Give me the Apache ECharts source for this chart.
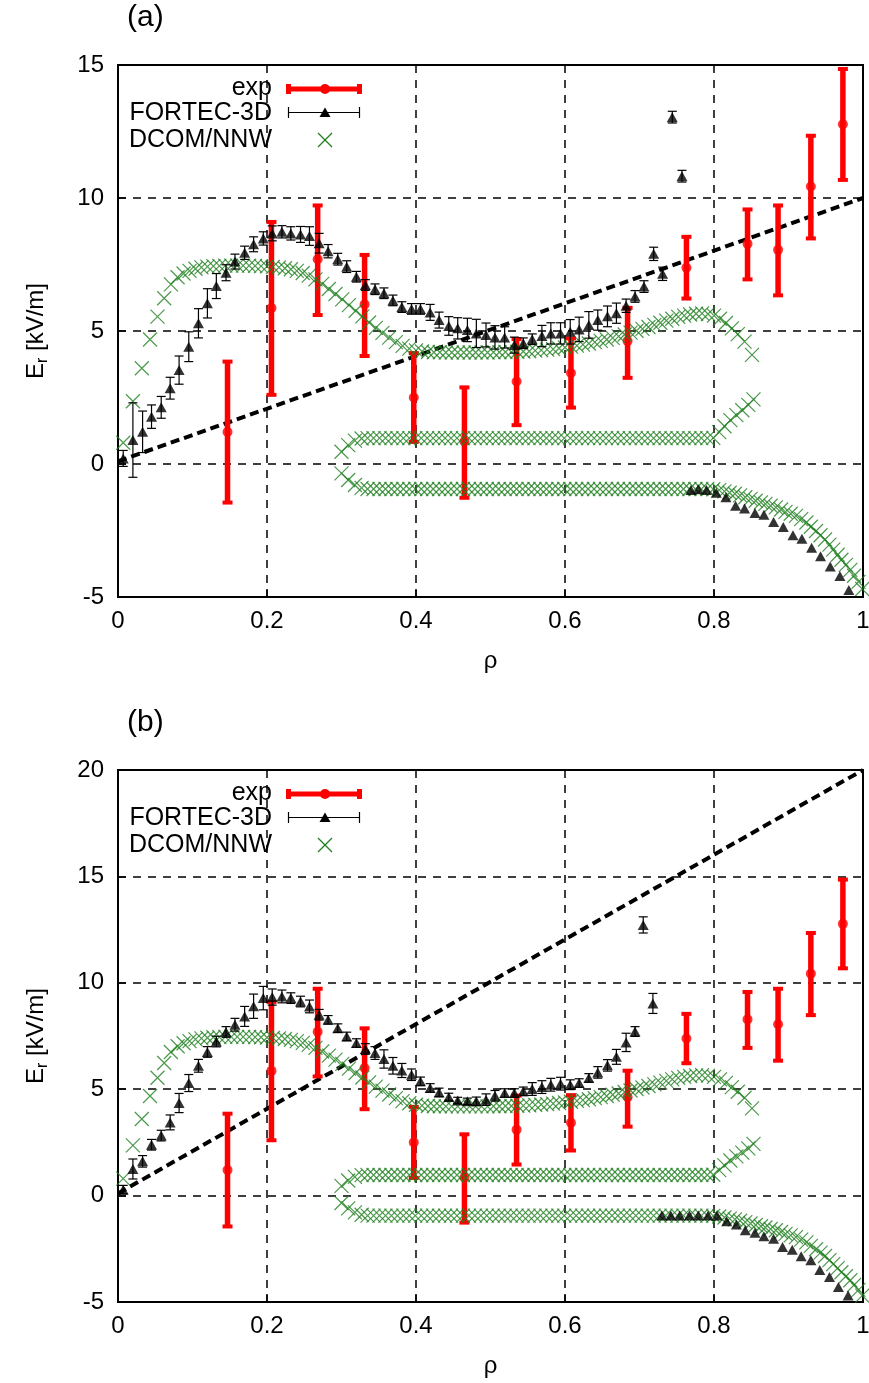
<!DOCTYPE html>
<html><head><meta charset="utf-8">
<script src="https://cdn.jsdelivr.net/npm/echarts@6.0.0/dist/echarts.min.js"></script>
<style>html,body{margin:0;padding:0;background:#fff}#c{width:869px;height:1383px}</style>
</head><body><div id="c"></div>
<script>
// ---------- data ----------
const xTicks = [0, 0.2, 0.4, 0.6, 0.8, 1];
// experimental Er with error bars (same in both panels)
const expX  = [0.147, 0.206, 0.268, 0.331, 0.397, 0.465, 0.535, 0.608, 0.684, 0.763, 0.845, 0.886, 0.930, 0.973];
const expY  = [1.20, 5.86, 7.70, 6.00, 2.50, 0.85, 3.10, 3.42, 4.62, 7.38, 8.28, 8.05, 10.43, 12.77];
const expLo = [-1.45, 2.60, 5.60, 4.06, 0.83, -1.27, 1.46, 2.12, 3.24, 6.22, 6.94, 6.34, 8.48, 10.68];
const expHi = [3.85, 9.10, 9.72, 7.86, 4.17, 2.88, 4.70, 4.72, 5.87, 8.54, 9.57, 9.72, 12.34, 14.85];

// FORTEC-3D panel (a): [rho, Er, error]
const fortecA = [
 [0.007,0.21,0.30],[0.020,0.90,1.40],[0.033,1.21,0.78],[0.045,1.78,0.44],[0.058,2.13,0.41],[0.070,2.85,0.41],
 [0.082,3.53,0.53],[0.095,4.41,0.56],[0.108,5.29,0.55],[0.120,6.04,0.55],[0.132,6.69,0.47],[0.145,7.19,0.30],
 [0.157,7.61,0.28],[0.170,7.94,0.25],[0.182,8.26,0.28],[0.195,8.48,0.25],[0.207,8.67,0.28],[0.220,8.73,0.23],
 [0.232,8.67,0.25],[0.245,8.63,0.30],[0.257,8.57,0.35],[0.270,8.30,0.37],[0.282,8.00,0.25],[0.295,7.70,0.22],
 [0.307,7.42,0.22],[0.320,7.04,0.20],[0.332,6.73,0.20],[0.345,6.57,0.20],[0.357,6.42,0.20],[0.369,6.15,0.20],
 [0.381,5.90,0.20],[0.394,5.83,0.20],[0.406,5.83,0.20],[0.419,5.70,0.30],[0.431,5.41,0.30],[0.444,5.19,0.35],
 [0.456,5.10,0.40],[0.469,5.04,0.44],[0.481,4.91,0.53],[0.494,4.85,0.45],[0.506,4.76,0.44],[0.519,4.76,0.40],
 [0.532,4.47,0.30],[0.544,4.54,0.20],[0.556,4.69,0.20],[0.569,4.81,0.40],[0.581,4.91,0.40],[0.594,4.91,0.40],
 [0.607,4.97,0.46],[0.619,5.06,0.46],[0.632,5.23,0.50],[0.644,5.41,0.38],[0.657,5.55,0.39],[0.669,5.67,0.38],
 [0.682,5.95,0.25],[0.694,6.30,0.22],[0.706,6.67,0.22],[0.719,7.90,0.25],[0.731,7.15,0.25],[0.744,13.04,0.22],
 [0.757,10.82,0.22],
 [0.769,-0.98,0],[0.779,-0.95,0],[0.790,-0.98,0],[0.803,-1.08,0],[0.816,-1.25,0],[0.829,-1.57,0],[0.841,-1.67,0],
 [0.855,-1.84,0],[0.867,-1.91,0],[0.880,-2.18,0],[0.893,-2.37,0],[0.906,-2.68,0],[0.918,-2.81,0],[0.931,-3.15,0],
 [0.943,-3.47,0],[0.956,-3.85,0],[0.969,-4.21,0],[0.981,-4.74,0]
];
// FORTEC-3D panel (b): [rho, Er, error]
const fortecB = [
 [0.007,0.28,0.20],[0.020,1.25,0.47],[0.033,1.61,0.27],[0.045,2.39,0.25],[0.058,2.82,0.25],[0.070,3.44,0.35],
 [0.082,4.35,0.45],[0.095,5.29,0.40],[0.108,6.10,0.30],[0.120,6.75,0.25],[0.132,7.24,0.25],[0.145,7.69,0.25],
 [0.157,8.03,0.30],[0.170,8.42,0.47],[0.182,8.90,0.57],[0.195,9.28,0.55],[0.207,9.33,0.38],[0.220,9.36,0.30],
 [0.232,9.28,0.25],[0.245,9.12,0.25],[0.257,8.89,0.30],[0.270,8.50,0.25],[0.282,8.26,0.20],[0.295,7.87,0.20],
 [0.307,7.48,0.20],[0.320,7.17,0.20],[0.332,6.89,0.25],[0.345,6.70,0.30],[0.357,6.42,0.43],[0.369,6.10,0.39],
 [0.381,5.88,0.33],[0.394,5.68,0.27],[0.406,5.37,0.20],[0.419,5.06,0.20],[0.431,4.85,0.20],[0.444,4.63,0.18],
 [0.456,4.47,0.15],[0.469,4.43,0.15],[0.481,4.43,0.20],[0.494,4.51,0.27],[0.506,4.69,0.25],[0.519,4.82,0.20],
 [0.532,4.82,0.20],[0.544,4.90,0.20],[0.556,5.01,0.30],[0.569,5.10,0.30],[0.581,5.21,0.30],[0.594,5.26,0.30],
 [0.607,5.21,0.23],[0.619,5.29,0.20],[0.632,5.53,0.20],[0.644,5.79,0.27],[0.657,6.12,0.27],[0.669,6.52,0.35],
 [0.682,7.20,0.43],[0.694,7.71,0.23],[0.705,12.72,0.38],[0.718,9.03,0.47],
 [0.730,-0.94,0],[0.742,-0.94,0],[0.754,-0.94,0],[0.767,-0.94,0],[0.779,-0.94,0],[0.792,-0.94,0],[0.804,-0.94,0],
 [0.817,-1.20,0],[0.830,-1.36,0],[0.842,-1.63,0],[0.855,-1.75,0],[0.867,-1.91,0],[0.880,-2.03,0],[0.892,-2.41,0],
 [0.905,-2.54,0],[0.917,-2.85,0],[0.930,-3.04,0],[0.942,-3.50,0],[0.955,-3.82,0],[0.967,-4.29,0],[0.980,-4.69,0]
];
// DCOM/NNW roots (same in both panels)
const dcomUpper = [
 [0.007,0.80],[0.020,2.36],[0.032,3.60],[0.043,4.68],[0.053,5.54],[0.062,6.23],[0.071,6.75],[0.080,7.02],
 [0.088,7.16],[0.096,7.26],[0.104,7.34],[0.112,7.39],[0.120,7.42],[0.128,7.44],[0.136,7.45],[0.144,7.46],
 [0.152,7.46],[0.160,7.46],[0.168,7.46],[0.176,7.46],[0.184,7.45],[0.192,7.44],[0.200,7.43],[0.208,7.41],
 [0.216,7.39],[0.224,7.36],[0.232,7.32],[0.240,7.26],[0.248,7.18],[0.256,7.08],
 [0.265,6.94],[0.274,6.77],[0.283,6.58],[0.292,6.39],[0.301,6.19],[0.310,5.97],[0.319,5.76],[0.328,5.55],
 [0.337,5.32],[0.346,5.12],[0.355,4.93],[0.364,4.75],[0.373,4.58],[0.382,4.44],[0.391,4.34],[0.400,4.27],
 [0.408,4.23],[0.416,4.21],[0.424,4.20],[0.432,4.20],[0.440,4.19],[0.448,4.19],[0.456,4.19],[0.464,4.19],
 [0.472,4.19],[0.480,4.19],[0.488,4.19],[0.496,4.19],[0.504,4.20],[0.512,4.20],[0.520,4.21],[0.528,4.21],
 [0.536,4.22],[0.544,4.23],[0.552,4.24],[0.560,4.26],[0.568,4.28],[0.576,4.30],[0.584,4.32],[0.592,4.35],
 [0.600,4.38],[0.608,4.41],[0.616,4.45],[0.624,4.49],[0.632,4.53],[0.640,4.58],[0.648,4.63],[0.656,4.68],
 [0.664,4.74],[0.672,4.80],[0.680,4.87],[0.688,4.94],[0.696,5.01],[0.704,5.08],[0.712,5.15],[0.720,5.23],
 [0.728,5.31],[0.736,5.39],[0.744,5.46],[0.752,5.53],[0.760,5.58],[0.768,5.62],[0.776,5.65],[0.784,5.66],
 [0.792,5.64],[0.800,5.58],[0.808,5.46],[0.816,5.30],[0.824,5.10],[0.832,4.88],[0.841,4.60],[0.851,4.10]
];
const dcomMiddle = [
 [0.300,0.46],[0.309,0.71],[0.318,0.88],[0.327,0.96],
 [0.335,0.97],[0.343,0.97],[0.351,0.97],[0.359,0.97],[0.367,0.97],[0.375,0.97],[0.383,0.97],[0.391,0.97],
 [0.399,0.97],[0.407,0.97],[0.415,0.97],[0.423,0.97],[0.431,0.97],[0.439,0.97],[0.447,0.97],[0.455,0.97],
 [0.463,0.97],[0.471,0.97],[0.479,0.97],[0.487,0.97],[0.495,0.97],[0.503,0.97],[0.511,0.97],[0.519,0.97],
 [0.527,0.97],[0.535,0.97],[0.543,0.97],[0.551,0.97],[0.559,0.97],[0.567,0.97],[0.575,0.97],[0.583,0.97],
 [0.591,0.97],[0.599,0.97],[0.607,0.97],[0.615,0.97],[0.623,0.97],[0.631,0.97],[0.639,0.97],[0.647,0.97],
 [0.655,0.97],[0.663,0.97],[0.671,0.97],[0.679,0.97],[0.687,0.97],[0.695,0.97],[0.703,0.97],[0.711,0.97],
 [0.719,0.97],[0.727,0.97],[0.735,0.97],[0.743,0.97],[0.751,0.97],[0.759,0.97],[0.767,0.97],[0.775,0.97],
 [0.783,0.97],[0.791,0.97],[0.799,0.98],
 [0.807,1.20],[0.814,1.42],[0.822,1.65],[0.830,1.84],[0.838,2.02],[0.846,2.22],[0.853,2.43]
];
const dcomLower = [
 [0.300,-0.35],[0.309,-0.60],[0.318,-0.79],[0.327,-0.90],
 [0.335,-0.94],[0.343,-0.94],[0.351,-0.94],[0.359,-0.94],[0.367,-0.94],[0.375,-0.94],[0.383,-0.94],[0.391,-0.94],
 [0.399,-0.94],[0.407,-0.94],[0.415,-0.94],[0.423,-0.94],[0.431,-0.94],[0.439,-0.94],[0.447,-0.94],[0.455,-0.94],
 [0.463,-0.94],[0.471,-0.94],[0.479,-0.94],[0.487,-0.94],[0.495,-0.94],[0.503,-0.94],[0.511,-0.94],[0.519,-0.94],
 [0.527,-0.94],[0.535,-0.94],[0.543,-0.94],[0.551,-0.94],[0.559,-0.94],[0.567,-0.94],[0.575,-0.94],[0.583,-0.94],
 [0.591,-0.94],[0.599,-0.94],[0.607,-0.94],[0.615,-0.94],[0.623,-0.94],[0.631,-0.94],[0.639,-0.94],[0.647,-0.94],
 [0.655,-0.94],[0.663,-0.94],[0.671,-0.94],[0.679,-0.94],[0.687,-0.94],[0.695,-0.94],[0.703,-0.94],[0.711,-0.94],
 [0.719,-0.94],[0.727,-0.94],[0.735,-0.94],[0.743,-0.94],[0.751,-0.94],[0.759,-0.94],[0.767,-0.94],[0.775,-0.94],
 [0.783,-0.94],[0.791,-0.94],[0.799,-0.95],
 [0.807,-0.98],[0.814,-1.03],[0.821,-1.08],[0.828,-1.12],[0.835,-1.18],[0.842,-1.25],[0.849,-1.31],[0.856,-1.38],
 [0.863,-1.44],[0.869,-1.50],[0.876,-1.57],[0.883,-1.63],[0.890,-1.71],[0.896,-1.80],[0.903,-1.87],[0.910,-1.95],
 [0.917,-2.07],[0.924,-2.20],[0.930,-2.36],[0.937,-2.52],[0.943,-2.68],[0.949,-2.84],[0.955,-3.03],[0.960,-3.22],
 [0.966,-3.41],[0.971,-3.60],[0.977,-3.79],[0.983,-3.98],[0.988,-4.20],[0.994,-4.43],[0.999,-4.70]
];
// dashed reference lines
const refLineA = [[0, 0.1], [1, 10]];
const refLineB = [[0, 0.1], [1, 20]];
const yTicksA = [-5, 0, 5, 10, 15];
const yTicksB = [-5, 0, 5, 10, 15, 20];

// ---------- rendering ----------
const FONT = '"Liberation Sans", Arial, Helvetica, sans-serif';
const GREEN = '#1f7f1f';
const RED = '#ff0000';
const CROSS = 'path://M0,0L10,10M0,10L10,0';
const GRID_L = 118, GRID_W = 745, GRID_H = 532;
const tops = [65, 770];

function errRender(capW, lw, capLw, color) {
  return function (params, api) {
    const x = api.value(0), lo = api.value(1), hi = api.value(2);
    const p1 = api.coord([x, lo]), p2 = api.coord([x, hi]);
    const st = {stroke: color, lineWidth: lw, lineCap: 'butt'};
    const cs = {stroke: color, lineWidth: capLw, lineCap: 'butt'};
    const ch = [{type: 'line', shape: {x1: p1[0], y1: p1[1], x2: p2[0], y2: p2[1]}, style: st}];
    if (hi - lo > 0) {
      ch.push({type: 'line', shape: {x1: p1[0] - capW / 2, y1: p1[1], x2: p1[0] + capW / 2, y2: p1[1]}, style: cs});
      ch.push({type: 'line', shape: {x1: p2[0] - capW / 2, y1: p2[1], x2: p2[0] + capW / 2, y2: p2[1]}, style: cs});
    }
    return {type: 'group', children: ch};
  };
}

const fmtX = v => String(Math.round(v * 10) / 10);
function xAxisCfg(i) {
  return {
    gridIndex: i, type: 'value', min: xTicks[0], max: xTicks[xTicks.length - 1], interval: 0.2,
    name: 'ρ', nameLocation: 'middle', nameGap: 52, nameMoveOverlap: false,
    nameTextStyle: {fontSize: 24, color: '#000', fontFamily: FONT},
    axisLine: {show: true, onZero: false, lineStyle: {color: '#000', width: 2}},
    axisTick: {show: true, inside: true, length: 8, lineStyle: {color: '#000', width: 1.5}},
    axisLabel: {show: true, fontSize: 24, color: '#000', fontFamily: FONT, margin: 12, formatter: fmtX,
      showMinLabel: true, showMaxLabel: true, hideOverlap: false},
    splitLine: {show: true, lineStyle: {color: '#000', width: 1.5, type: [8, 7]}}
  };
}
function yAxisCfg(i, ticks) {
  return {
    gridIndex: i, type: 'value', min: ticks[0], max: ticks[ticks.length - 1], interval: 5,
    name: '{a|E}{b|r}{a| [kV/m]}', nameLocation: 'middle', nameRotate: 90, nameGap: 67, nameMoveOverlap: false,
    nameTextStyle: {color: '#000', fontFamily: FONT, rich: {
      a: {fontSize: 24, lineHeight: 30, color: '#000', fontFamily: FONT},
      b: {fontSize: 16, lineHeight: 16, verticalAlign: 'bottom', color: '#000', fontFamily: FONT}
    }},
    axisLine: {show: true, onZero: false, lineStyle: {color: '#000', width: 2}},
    axisTick: {show: true, inside: true, length: 8, lineStyle: {color: '#000', width: 1.5}},
    axisLabel: {show: true, fontSize: 24, color: '#000', fontFamily: FONT, margin: 14,
      showMinLabel: true, showMaxLabel: true, hideOverlap: false},
    splitLine: {show: true, lineStyle: {color: '#000', width: 1.5, type: [8, 7]}}
  };
}

const fortecSets = [fortecA, fortecB];
const refLines = [refLineA, refLineB];
const series = [];
for (let i = 0; i < 2; i++) {
  series.push({
    type: 'line', xAxisIndex: i, yAxisIndex: i, data: refLines[i], showSymbol: false, symbol: 'none',
    lineStyle: {color: '#000', width: 4, type: [9, 5]}, z: 1, silent: true, animation: false
  });
  series.push({
    type: 'custom', xAxisIndex: i, yAxisIndex: i, z: 2, animation: false,
    renderItem: errRender(10, 5.5, 4, RED),
    encode: {x: 0, y: [1, 2]},
    data: expX.map((x, k) => [x, expLo[k], expHi[k]])
  });
  series.push({
    type: 'scatter', xAxisIndex: i, yAxisIndex: i, z: 2, animation: false,
    symbol: 'circle', symbolSize: 10, itemStyle: {color: RED},
    data: expX.map((x, k) => [x, expY[k]])
  });
  const dcomStyle = {
    type: 'scatter', xAxisIndex: i, yAxisIndex: i, z: 3, animation: false,
    symbol: CROSS, symbolSize: 14,
    itemStyle: {color: 'rgba(0,0,0,0)', borderColor: GREEN, borderWidth: 1.2}
  };
  series.push(Object.assign({}, dcomStyle, {data: dcomUpper}));
  series.push(Object.assign({}, dcomStyle, {data: dcomMiddle}));
  series.push(Object.assign({}, dcomStyle, {data: dcomLower}));
  const fs = fortecSets[i];
  series.push({
    type: 'custom', xAxisIndex: i, yAxisIndex: i, z: 4, animation: false,
    renderItem: errRender(9, 1.2, 1.2, '#000'),
    encode: {x: 0, y: [1, 2]},
    data: fs.filter(d => d[2] > 0).map(d => [d[0], d[1] - d[2], d[1] + d[2]])
  });
  series.push({
    type: 'scatter', xAxisIndex: i, yAxisIndex: i, z: 4, animation: false,
    symbol: 'triangle', symbolSize: [11, 10], itemStyle: {color: '#000'},
    data: fs.map(d => [d[0], d[1]])
  });
}

// gnuplot-style key and panel labels
const graphics = [];
const panelLabels = ['(a)', '(b)'];
for (let i = 0; i < 2; i++) {
  const dy = tops[i] - tops[0];
  graphics.push({type: 'text', left: 127, top: 3 + dy, style: {text: panelLabels[i], font: '30px ' + FONT, fill: '#000'}});
  const rows = [{t: 'exp', y: 88}, {t: 'FORTEC-3D', y: 113}, {t: 'DCOM/NNW', y: 140}];
  rows.forEach(r => graphics.push({type: 'text', x: 272, y: r.y + dy,
    style: {text: r.t, font: '25px ' + FONT, fill: '#000', align: 'right', verticalAlign: 'middle'}}));
  // exp sample
  graphics.push({type: 'line', shape: {x1: 288, y1: 89 + dy, x2: 360, y2: 89 + dy}, style: {stroke: RED, lineWidth: 5}});
  graphics.push({type: 'rect', shape: {x: 286, y: 84 + dy, width: 5, height: 10}, style: {fill: RED}});
  graphics.push({type: 'rect', shape: {x: 357, y: 84 + dy, width: 5, height: 10}, style: {fill: RED}});
  graphics.push({type: 'circle', shape: {cx: 325, cy: 89 + dy, r: 5}, style: {fill: RED}});
  // FORTEC sample
  graphics.push({type: 'line', shape: {x1: 288.5, y1: 112.5 + dy, x2: 359.5, y2: 112.5 + dy}, style: {stroke: '#000', lineWidth: 1.2}});
  graphics.push({type: 'line', shape: {x1: 288.5, y1: 107 + dy, x2: 288.5, y2: 118 + dy}, style: {stroke: '#000', lineWidth: 1.2}});
  graphics.push({type: 'line', shape: {x1: 359.5, y1: 107 + dy, x2: 359.5, y2: 118 + dy}, style: {stroke: '#000', lineWidth: 1.2}});
  graphics.push({type: 'polygon', shape: {points: [[325, 107.5 + dy], [330.5, 117 + dy], [319.5, 117 + dy]]}, style: {fill: '#000'}});
  // DCOM sample
  graphics.push({type: 'line', shape: {x1: 318, y1: 133 + dy, x2: 332, y2: 147 + dy}, style: {stroke: GREEN, lineWidth: 1.2}});
  graphics.push({type: 'line', shape: {x1: 318, y1: 147 + dy, x2: 332, y2: 133 + dy}, style: {stroke: GREEN, lineWidth: 1.2}});
}

const chart = echarts.init(document.getElementById('c'), null, {renderer: 'canvas'});
chart.setOption({
  animation: false,
  backgroundColor: '#fff',
  grid: tops.map(t => ({left: GRID_L, top: t, width: GRID_W, height: GRID_H, containLabel: false,
    outerBoundsMode: 'none', show: true, borderColor: '#000', borderWidth: 2, backgroundColor: 'transparent'})),
  xAxis: [xAxisCfg(0), xAxisCfg(1)],
  yAxis: [yAxisCfg(0, yTicksA), yAxisCfg(1, yTicksB)],
  series: series,
  graphic: graphics
});
</script></body></html>
